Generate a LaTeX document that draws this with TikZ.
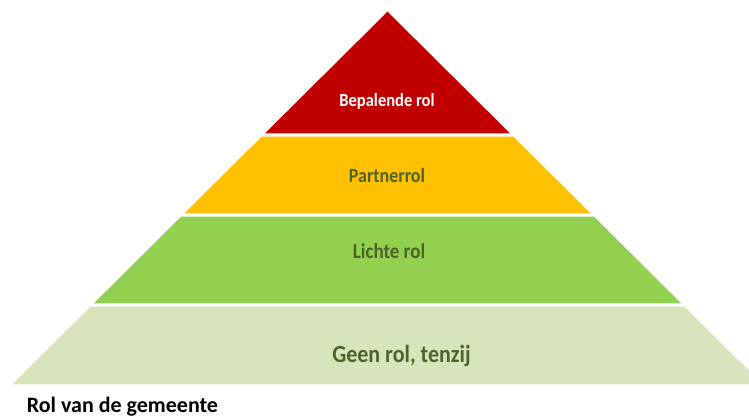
\documentclass[tikz,border=0pt]{standalone}
\usepackage{fontspec}
\usepackage{graphicx}
\setmainfont{Carlito}
\definecolor{cred}{HTML}{C00000}
\definecolor{cyellow}{HTML}{FFC000}
\definecolor{cgreen}{HTML}{92D050}
\definecolor{clight}{HTML}{D8E4BC}
\definecolor{colive}{HTML}{4F6228}
\newcommand{\tallt}[1]{\scalebox{1}[1.12]{#1}}
\tikzset{
  lbl/.style={anchor=base, inner sep=0pt, font=\bfseries},
}
\begin{document}
\begin{tikzpicture}[x=1pt,y=-1pt]
\useasboundingbox (0,0) rectangle (749,417);
\clip (0,0) rectangle (749,417);
\def\cx{387.5}
\def\ay{11.7}
\def\sl{1.007}
% red apex triangle
\fill[cred] (\cx,\ay) -- ({\cx+(133.3-\ay)*\sl},133.3) -- ({\cx-(133.3-\ay)*\sl},133.3) -- cycle;
% yellow band
\fill[cyellow] ({\cx-(136.7-\ay)*\sl},136.7) -- ({\cx+(136.7-\ay)*\sl},136.7) -- ({\cx+(213.3-\ay)*\sl},213.3) -- ({\cx-(213.3-\ay)*\sl},213.3) -- cycle;
% green band
\fill[cgreen] ({\cx-(216.7-\ay)*\sl},216.7) -- ({\cx+(216.7-\ay)*\sl},216.7) -- ({\cx+(303.3-\ay)*\sl},303.3) -- ({\cx-(303.3-\ay)*\sl},303.3) -- cycle;
% light green band
\fill[clight] ({\cx-(306.7-\ay)*\sl},306.7) -- ({\cx+(306.7-\ay)*\sl},306.7) -- ({\cx+(384.3-\ay)*\sl},384.3) -- ({\cx-(384.3-\ay)*\sl},384.3) -- cycle;
% labels
\node[lbl, text=white, font=\bfseries\fontsize{16.5}{18}\selectfont] (bepalend) at (387,106.7) {\tallt{Bepalende rol}};
\node[lbl, text=colive, font=\bfseries\fontsize{18}{20}\selectfont] (partner) at (387,182.3) {\tallt{Partnerrol}};
\node[lbl, text=colive, font=\bfseries\fontsize{19}{21}\selectfont] (licht) at (389,258.3) {\tallt{Lichte rol}};
\node[lbl, text=colive, font=\bfseries\fontsize{22}{24}\selectfont] (geen) at (401.5,362.7) {\tallt{Geen rol, tenzij}};
\node[lbl, anchor=base west, text=black, font=\bfseries\fontsize{22}{24}\selectfont] (rol) at (26.7,412.7) {Rol van de gemeente};
\end{tikzpicture}
\end{document}
